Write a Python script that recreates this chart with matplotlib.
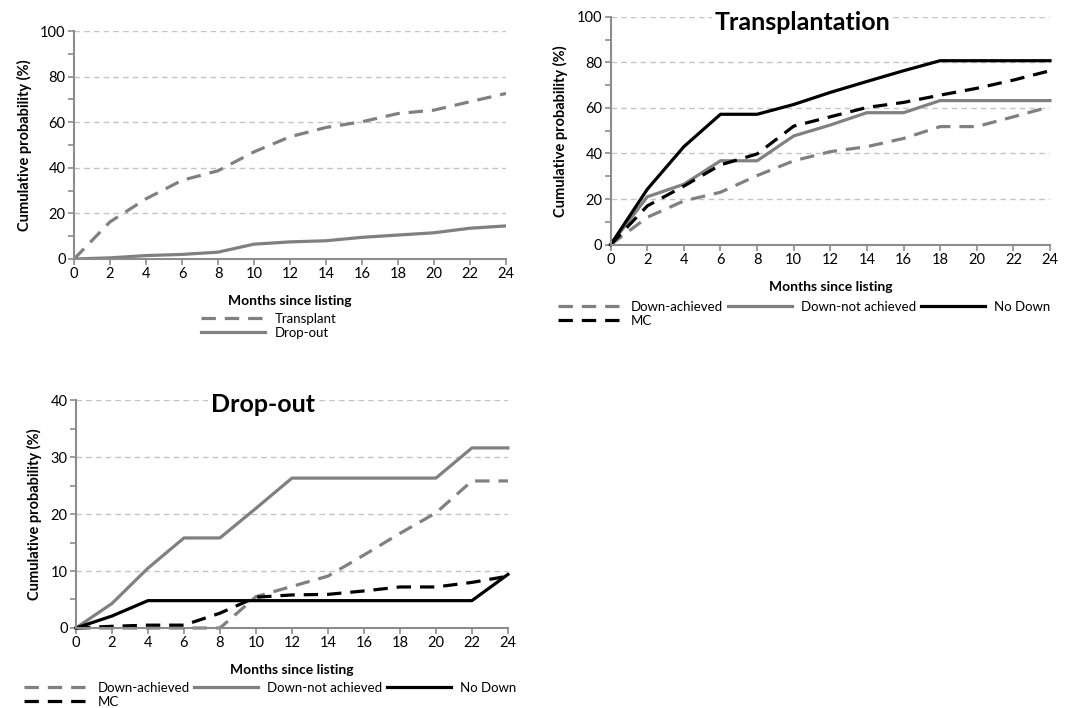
import matplotlib.pyplot as plt
from matplotlib.ticker import MultipleLocator

plt.rcParams['font.family'] = ['Lato', 'DejaVu Sans']

months = [0, 2, 4, 6, 8, 10, 12, 14, 16, 18, 20, 22, 24]

# overall cohort
all_transplant = [0, 16.3, 26.4, 34.5, 38.7, 47, 53.6, 57.7, 60.2, 63.8, 65.3, 69, 72.6]
all_dropout = [0, 0.5, 1.5, 2, 3, 6.5, 7.5, 8, 9.5, 10.5, 11.5, 13.5, 14.5]

# transplantation by group
tx_down_achieved = [0, 12, 19.2, 23, 30.3, 36.8, 40.8, 43, 46.6, 51.8, 51.8, 56.1, 60.5]
tx_down_not = [0, 21, 26.5, 36.8, 36.8, 47.7, 52.5, 57.9, 57.9, 63.2, 63.2, 63.2, 63.2]
tx_no_down = [0, 24.3, 43, 57.2, 57.2, 61.5, 66.8, 71.6, 76.3, 80.7, 80.7, 80.7, 80.7]
tx_mc = [0, 17, 25.7, 35, 39.8, 52, 56.1, 60.2, 62.4, 65.6, 68.6, 72.2, 76.3]

# drop-out by group
do_down_achieved = [0, 0, 0, 0, 0, 5.5, 7.3, 9.1, 12.8, 16.6, 20.2, 25.8, 25.8]
do_down_not = [0, 4.3, 10.5, 15.8, 15.8, 21, 26.3, 26.3, 26.3, 26.3, 26.3, 31.6, 31.6]
do_no_down = [0, 2.1, 4.8, 4.8, 4.8, 4.8, 4.8, 4.8, 4.8, 4.8, 4.8, 4.8, 9.4]
do_mc = [0, 0.3, 0.5, 0.5, 2.6, 5.4, 5.8, 5.9, 6.5, 7.2, 7.2, 8, 9.1]

GREY = '#808080'
AXIS = '#8c8c8c'
LW = 2.3
DASH = (4.5, 2.8)

LEG = dict(frameon=False, handlelength=4.85, handletextpad=0.7, labelspacing=0.15,
           columnspacing=0.35, fontsize=9.5, borderpad=0, borderaxespad=0)


def style_axes(ax, ymax, ystep):
    ax.set_xlim(0, 24)
    ax.set_ylim(0, ymax)
    ax.xaxis.set_major_locator(MultipleLocator(2))
    ax.yaxis.set_major_locator(MultipleLocator(ystep))
    ax.yaxis.set_minor_locator(MultipleLocator(ystep / 2))
    for side in ['top', 'right']:
        ax.spines[side].set_visible(False)
    for side in ['left', 'bottom']:
        ax.spines[side].set_color(AXIS)
        ax.spines[side].set_linewidth(1.5)
    ax.tick_params(axis='both', which='both', color=AXIS, width=1.2, length=4,
                   labelsize=10.5, pad=2)
    ax.tick_params(axis='y', which='minor', length=4)
    ax.yaxis.grid(True, which='major', color='#c4c4c4', linestyle=(0, (4, 3)), linewidth=1)
    ax.set_axisbelow(True)
    ax.set_xlabel('Months since listing', fontsize=10, fontweight='bold', labelpad=10)
    ax.set_ylabel('Cumulative probability (%)', fontsize=10.5, fontweight='bold', labelpad=6)


def group_lines(ax, da, dn, nd, mc):
    l1, = ax.plot(months, da, color=GREY, lw=LW, dashes=DASH, label='Down-achieved')
    l2, = ax.plot(months, dn, color=GREY, lw=LW, label='Down-not achieved')
    l3, = ax.plot(months, nd, color='black', lw=LW, label='No Down')
    l4, = ax.plot(months, mc, color='black', lw=LW, dashes=DASH, label='MC')
    for l in (l1, l2, l3, l4):
        l.set_clip_on(False)
    # reorder so the legend fills row by row
    return [l1, l4, l2, l3]


fig = plt.figure(figsize=(10.7, 7.08), dpi=100)

ax1 = fig.add_axes([0.0692, 0.6342, 0.4037, 0.322])
ax2 = fig.add_axes([0.5707, 0.6544, 0.4106, 0.322])
ax3 = fig.add_axes([0.0710, 0.1130, 0.4037, 0.322])

# overall
style_axes(ax1, 100, 20)
ax1.plot(months, all_transplant, color=GREY, lw=LW, dashes=DASH, label='Transplant')
ax1.plot(months, all_dropout, color=GREY, lw=LW, label='Drop-out')
ax1.legend(loc='upper left', bbox_to_anchor=(0.295, -0.235), **LEG)

# transplantation
style_axes(ax2, 100, 20)
h = group_lines(ax2, tx_down_achieved, tx_down_not, tx_no_down, tx_mc)
ax2.text(10.5, 97.5, 'Transplantation', fontsize=18, fontweight='bold',
         ha='center', va='center',
         bbox=dict(facecolor='white', edgecolor='none', pad=2))
ax2.legend(handles=h, loc='upper left', bbox_to_anchor=(-0.12, -0.245), ncol=3, **LEG)

# drop-out
style_axes(ax3, 40, 10)
h = group_lines(ax3, do_down_achieved, do_down_not, do_no_down, do_mc)
ax3.text(10.4, 39.3, 'Drop-out', fontsize=18, fontweight='bold',
         ha='center', va='center',
         bbox=dict(facecolor='white', edgecolor='none', pad=2))
ax3.legend(handles=h, loc='upper left', bbox_to_anchor=(-0.12, -0.235), ncol=3, **LEG)

fig.savefig('out.png', dpi=100)
